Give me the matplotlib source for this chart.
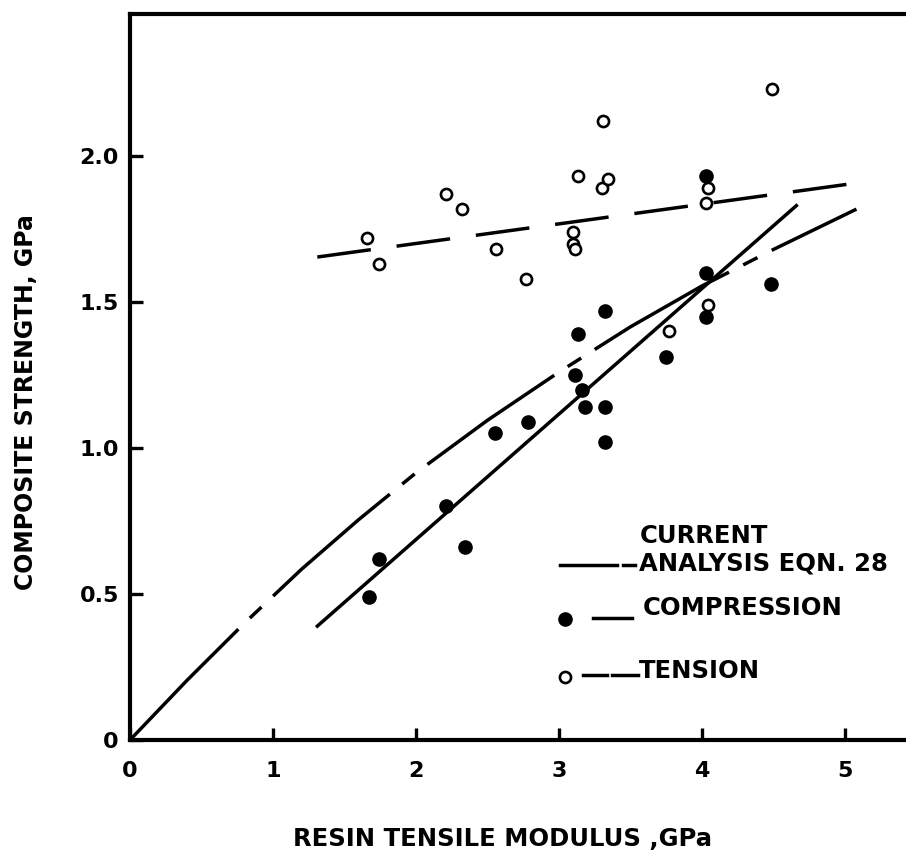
"""
composite strength vs resin tensile modulus, compression and tension data
"""

import matplotlib as mpl
mpl.use('Agg')
import matplotlib.pyplot as plt
from matplotlib.lines import Line2D

plt.rcParams['font.family'] = ['DejaVu Sans']
plt.rcParams['font.weight'] = 'bold'
plt.rcParams['lines.scale_dashes'] = False

# compression tests (filled)
comp_x = [1.67, 1.74, 2.21, 2.34, 2.55, 2.78, 3.11, 3.13, 3.16, 3.18, 3.32, 3.32, 3.32, 3.75, 4.03, 4.03, 4.03, 4.48]
comp_y = [0.49, 0.62, 0.80, 0.66, 1.05, 1.09, 1.25, 1.39, 1.20, 1.14, 1.47, 1.14, 1.02, 1.31, 1.93, 1.60, 1.45, 1.56]

# tension tests (open)
tens_x = [1.66, 1.74, 2.21, 2.32, 2.56, 2.77, 3.10, 3.10, 3.11, 3.13, 3.30, 3.31, 3.34, 3.77, 4.03, 4.04, 4.04, 4.49]
tens_y = [1.72, 1.63, 1.87, 1.82, 1.68, 1.58, 1.74, 1.70, 1.68, 1.93, 1.89, 2.12, 1.92, 1.40, 1.84, 1.89, 1.49, 2.23]

# straight fits through each set
comp_fit_x = [1.31, 4.66]
comp_fit_y = [0.39, 1.83]
tens_fit_x = [1.31, 5.09]
tens_fit_y = [1.654, 1.908]

# current analysis, eqn. 28
eqn_x = [0.0, 0.4, 0.8, 1.2, 1.6, 2.0, 2.5, 3.0, 3.5, 4.0, 4.5, 5.08]
eqn_y = [0.0, 0.205, 0.40, 0.585, 0.755, 0.915, 1.095, 1.26, 1.415, 1.555, 1.68, 1.818]

xticks = [0, 1, 2, 3, 4, 5]
yticks = [0, 0.5, 1.0, 1.5, 2.0]
ytick_labels = ['0', '0.5', '1.0', '1.5', '2.0']

W, H = 906, 856
fig = plt.figure(figsize=(W / 100, H / 100), dpi=100)
ax = fig.add_axes([130 / W, 1 - 740 / H, 1 - 130 / W, (740 - 14) / H])

PX = 72 / 100  # pixels -> points
lw = 2.5
eqn_dash = (155 * PX, 16 * PX, 16 * PX, 16 * PX)
tens_dash = (54 * PX, 26 * PX)

ax.plot(eqn_x, eqn_y, color='black', lw=lw, dashes=eqn_dash)
ax.plot(comp_fit_x, comp_fit_y, color='black', lw=lw)
ax.plot(tens_fit_x, tens_fit_y, color='black', lw=lw, dashes=tens_dash)

ax.plot(comp_x, comp_y, 'o', color='black', ms=9.5, ls='none')
ax.plot(tens_x, tens_y, 'o', mfc='white', mec='black', mew=1.9, ms=8, ls='none')

ax.set_xlim(0, (W - 130) / 143)
ax.set_ylim(0, (740 - 14) / 292)
ax.set_xticks(xticks)
ax.set_xticklabels([str(t) for t in xticks])
ax.set_yticks(yticks)
ax.set_yticklabels(ytick_labels)
ax.tick_params(direction='in', length=9, width=2.4, labelsize=16, pad=8)
ax.tick_params(axis='x', pad=15)

ax.spines['right'].set_visible(False)
for s in ['left', 'bottom', 'top']:
    ax.spines[s].set_linewidth(3)

fig.text(503 / W, 1 - 839 / H, 'RESIN TENSILE MODULUS ,GPa', ha='center', va='center', fontsize=17.5)
fig.text(26 / W, 1 - 402 / H, 'COMPOSITE STRENGTH, GPa', ha='center', va='center',
         rotation=90, fontsize=17)


# hand-laid key in pixel coordinates
def fx(x):
    return x / W


def fy(y):
    return 1 - y / H


def key_line(x0, x1, y, **kw):
    fig.add_artist(Line2D([fx(x0), fx(x1)], [fy(y), fy(y)], color='black', lw=lw, **kw))


key_line(560, 617, 565)
key_line(623, 635, 565)
fig.add_artist(Line2D([fx(565)], [fy(619)], marker='o', color='black', ms=9.5))
key_line(593, 632, 618)
fig.add_artist(Line2D([fx(565)], [fy(677)], marker='o', mfc='white', mec='black', mew=1.9, ms=8))
key_line(583, 607, 675)
key_line(612, 638, 675)

fig.text(fx(640), fy(536), 'CURRENT', va='center', fontsize=17.5)
fig.text(fx(639), fy(564), 'ANALYSIS EQN. 28', va='center', fontsize=17.5)
fig.text(fx(643), fy(608), 'COMPRESSION', va='center', fontsize=17.5)
fig.text(fx(639), fy(671), 'TENSION', va='center', fontsize=17.5)

fig.savefig('out.png', dpi=100)
